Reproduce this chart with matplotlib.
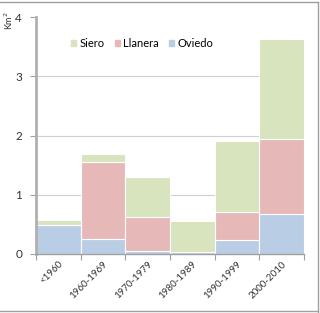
import numpy as np
import matplotlib.pyplot as plt
from matplotlib.lines import Line2D
from matplotlib.patches import Patch

plt.rcParams['font.family'] = ['Lato', 'DejaVu Sans']

periods = ['<1960', '1960-1969', '1970-1979', '1980-1989', '1990-1999', '2000-2010']
oviedo = [0.49, 0.25, 0.05, 0.04, 0.24, 0.68]
llanera = [0.00, 1.30, 0.57, 0.00, 0.47, 1.26]
siero = [0.09, 0.13, 0.68, 0.52, 1.20, 1.69]

c_ov = '#b9cde5'
c_ll = '#e6b9b8'
c_si = '#d7e4bd'

fig = plt.figure(figsize=(3.2, 3.13), dpi=100)
ax = fig.add_axes([0.1125, 0.1885, 0.8375, 0.757])

x = np.arange(len(periods))
bottom2 = np.array(oviedo) + np.array(llanera)
ax.bar(x, oviedo, width=1.0, color=c_ov, edgecolor='white', linewidth=0.8, zorder=2)
ax.bar(x, llanera, width=1.0, bottom=oviedo, color=c_ll, edgecolor='white', linewidth=0.8, zorder=2)
ax.bar(x, siero, width=1.0, bottom=bottom2, color=c_si, edgecolor='white', linewidth=0.8, zorder=2)

ax.set_xlim(-0.5, len(periods) - 0.5)
ax.set_ylim(0, 4)
ax.set_yticks([0, 1, 2, 3, 4])
for yv in [1, 2, 3]:
    ax.axhline(yv, color='#d0d0d0', linewidth=0.8, zorder=1)

ax.set_xticks(x)
ax.set_xticklabels(periods, rotation=45, ha='right', rotation_mode='anchor', fontsize=7, color='#333333')
ax.set_xticks(np.arange(-0.5, len(periods)), minor=True)
ax.tick_params(axis='x', which='major', length=0, pad=4)
ax.tick_params(axis='x', which='minor', length=4, color='#a0a0a0', width=0.8)
ax.tick_params(axis='y', length=4, color='#a0a0a0', width=0.8, labelsize=8.5, labelcolor='#333333', pad=6)

for s in ['top', 'right']:
    ax.spines[s].set_visible(False)
ax.spines['left'].set_color('#b0b0b0')
ax.spines['left'].set_linewidth(2)
ax.spines['bottom'].set_color('#a0a0a0')
ax.spines['bottom'].set_linewidth(1)

fig.text(0.027, 0.935, 'Km$^2$', rotation=90, fontsize=6.5, ha='center', va='center', color='#333333')

handles = [Patch(color=c_si, label='Siero'), Patch(color=c_ll, label='Llanera'), Patch(color=c_ov, label='Oviedo')]
ax.legend(handles=handles, ncol=3, loc='upper left', bbox_to_anchor=(0.115, 0.93), frameon=False,
          fontsize=8, handlelength=0.45, handleheight=0.45, handletextpad=0.3, columnspacing=0.9,
          borderaxespad=0)

# figure border (top, right, bottom)
for xs, ys in [([0, 0.995], [0.995, 0.995]), ([0.993, 0.993], [0.003, 0.995]), ([0, 0.993], [0.005, 0.005])]:
    fig.add_artist(Line2D(xs, ys, transform=fig.transFigure, color='#a0a0a0', linewidth=1))

fig.savefig('out.png', dpi=100)
